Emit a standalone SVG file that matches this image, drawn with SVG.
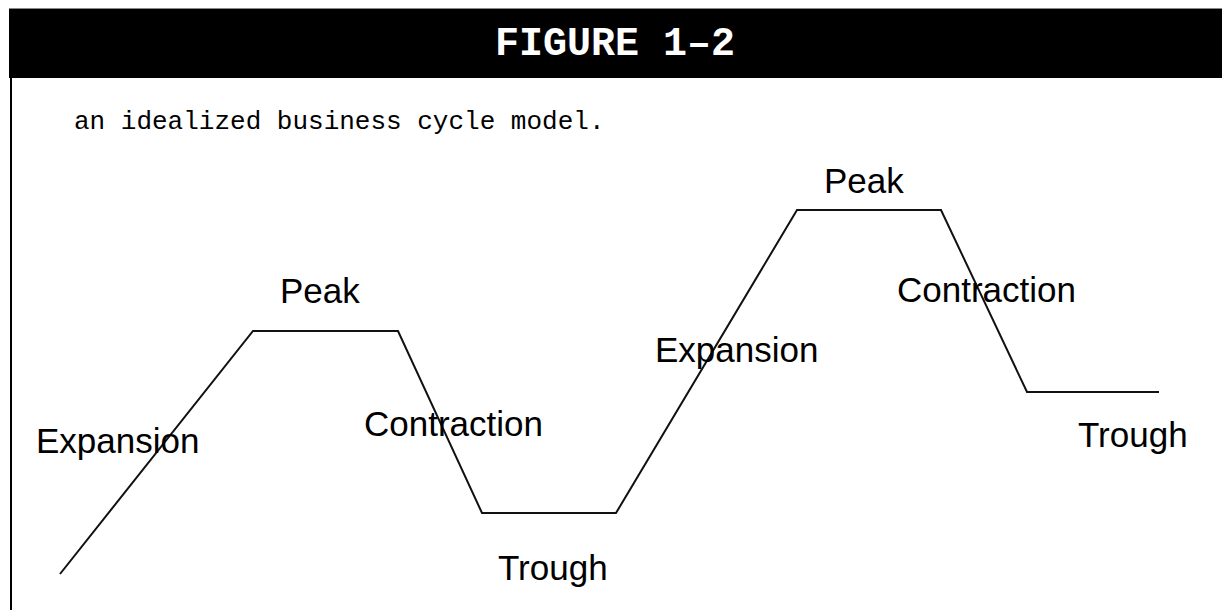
<svg xmlns="http://www.w3.org/2000/svg" width="1222" height="610" viewBox="0 0 1222 610">
<style>
.lbl{font-family:"Liberation Sans",Arial,Helvetica,sans-serif;font-size:35px;fill:#000}
.curve{fill:none;stroke:#111;stroke-width:2;stroke-linejoin:miter}
</style>
<rect x="0" y="0" width="1222" height="610" fill="#fff"/>
<g id="frame">
<line x1="9" y1="8.5" x2="1222" y2="8.5" stroke="#888" stroke-width="1"/>
<rect x="9" y="9" width="1213" height="69" fill="#000"/>
<line x1="11" y1="78" x2="11" y2="610" stroke="#000" stroke-width="2"/>
<text x="615" y="55" text-anchor="middle" font-family="'Liberation Mono','Courier New',monospace" font-weight="bold" font-size="40" fill="#fff">FIGURE 1–2</text>
<text x="74" y="129" font-family="'Liberation Mono','Courier New',monospace" font-size="26" fill="#000">an idealized business cycle model.</text>
</g>
<g id="connectors">
<polyline class="curve" points="60,574 253,331 398,331 482,513 616,513 797,210 941,210 1027,392 1159,392"/>
</g>
<g id="expansion1"><text class="lbl" x="36" y="453">Expansion</text></g>
<g id="peak1"><text class="lbl" x="280" y="303">Peak</text></g>
<g id="contraction1"><text class="lbl" x="364" y="436">Contraction</text></g>
<g id="trough1"><text class="lbl" x="498" y="580">Trough</text></g>
<g id="expansion2"><text class="lbl" x="655" y="362">Expansion</text></g>
<g id="peak2"><text class="lbl" x="824" y="193">Peak</text></g>
<g id="contraction2"><text class="lbl" x="897" y="302">Contraction</text></g>
<g id="trough2"><text class="lbl" x="1078" y="447">Trough</text></g>
</svg>
